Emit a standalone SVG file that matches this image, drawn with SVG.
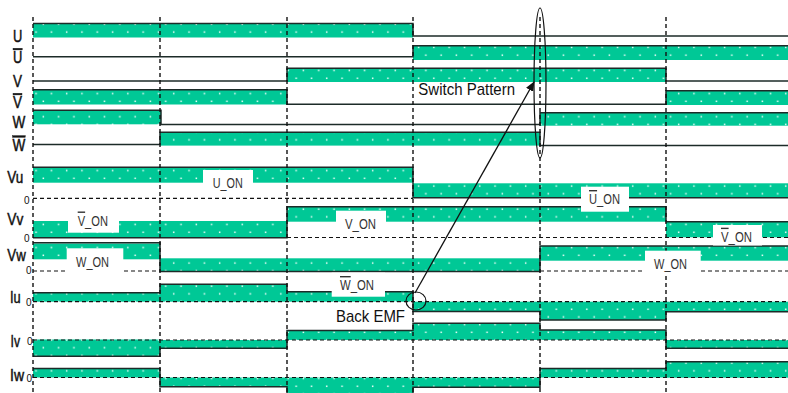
<svg xmlns="http://www.w3.org/2000/svg" width="788" height="393" viewBox="0 0 788 393">
<style>
.g{fill:url(#dots)}
.w{fill:none;stroke:#1c2b28;stroke-width:1.5}
.z{fill:none;stroke:#111;stroke-width:1.2;stroke-dasharray:4 3}
.grid{fill:none;stroke:#111;stroke-width:1.4;stroke-dasharray:4 3}
.box{fill:#fff}
.lbl{font-family:"Liberation Sans Narrow","Liberation Sans",Arial,sans-serif;font-size:16px;fill:#111;stroke:#111;stroke-width:0.45}
.zero{font-family:"Liberation Sans Narrow","Liberation Sans",Arial,sans-serif;font-size:10px;fill:#111}
.on{font-family:"Liberation Sans Narrow","Liberation Sans",Arial,sans-serif;font-size:14px;fill:#333}
.big{font-family:"Liberation Sans Narrow","Liberation Sans",Arial,sans-serif;font-size:17px;fill:#111}
.ov{text-decoration:overline}
.ell{fill:none;stroke:#111;stroke-width:1.2}
</style>
<defs>
<pattern id="dots" patternUnits="userSpaceOnUse" width="15.3" height="15.4">
<rect width="15.3" height="15.4" fill="#00c896"/>
<rect x="12" y="8.2" width="1.5" height="1.5" fill="#effffa"/>
<rect x="4.7" y="0.5" width="1.5" height="1.5" fill="#effffa"/>
</pattern>
<marker id="ah" markerWidth="10" markerHeight="8" refX="9" refY="4" orient="auto" markerUnits="userSpaceOnUse">
<path d="M0,0 L10,4 L0,8 Z" fill="#111"/>
</marker>
</defs>
<rect width="788" height="393" fill="#fff"/>

<g id="row-U">
<rect class="g" x="33" y="23.5" width="380" height="14"/>
<path class="w" d="M33,23.5 H413 V36 H788"/>
<text class="lbl" x="13" y="41.7" textLength="9.3" lengthAdjust="spacingAndGlyphs">U</text>
</g>
<g id="row-Ubar">
<rect class="g" x="413" y="45.7" width="375" height="14.3"/>
<path class="w" d="M33,56.7 H413 V45.7 H788"/>
<text class="lbl" x="13" y="63.3" textLength="9.3" lengthAdjust="spacingAndGlyphs"><tspan class="ov">U</tspan></text>
</g>
<g id="row-V">
<rect class="g" x="287" y="68.3" width="379" height="13.7"/>
<path class="w" d="M33,81 H287 V68.3 H666 V81 H788"/>
<text class="lbl" x="13" y="87.3" textLength="9" lengthAdjust="spacingAndGlyphs">V</text>
</g>
<g id="row-Vbar">
<rect class="g" x="33" y="89.7" width="254" height="14.8"/>
<rect class="g" x="666" y="90.7" width="122" height="14.3"/>
<path class="w" d="M33,89.7 H287 V104.3 H666 V90.7 H788"/>
<text class="lbl" x="13" y="108.3" textLength="9" lengthAdjust="spacingAndGlyphs"><tspan class="ov">V</tspan></text>
</g>
<g id="row-W">
<rect class="g" x="33" y="110.3" width="128" height="14"/>
<rect class="g" x="540" y="112.7" width="248" height="13"/>
<path class="w" d="M33,110.3 H161 V124.4 H540 V112.7 H788"/>
<text class="lbl" x="12.5" y="128.3" textLength="12.8" lengthAdjust="spacingAndGlyphs">W</text>
</g>
<g id="row-Wbar">
<rect class="g" x="160" y="132.3" width="380" height="13.3"/>
<path class="w" d="M33,144.4 H160 V132.3 H540 V145.6 H788"/>
<text class="lbl" x="12.5" y="150.7" textLength="12.8" lengthAdjust="spacingAndGlyphs"><tspan class="ov">W</tspan></text>
</g>

<g id="row-Vu">
<rect class="g" x="33" y="167.3" width="380" height="15.4"/>
<rect class="g" x="413" y="183.3" width="375" height="14.4"/>
<path class="z" d="M33,198.3 H413"/>
<path class="w" d="M33,167.3 H413 V197.7 H788"/>
<text class="lbl" x="7.3" y="182.5" textLength="16" lengthAdjust="spacingAndGlyphs">Vu</text>
<text class="zero" x="24" y="203.5">0</text>
</g>
<g id="row-Vv">
<rect class="g" x="33" y="221" width="254" height="16.5"/>
<rect class="g" x="287" y="206.7" width="379" height="15"/>
<rect class="g" x="666" y="221.7" width="122" height="15.6"/>
<path class="z" d="M287,237.5 H788"/>
<path class="w" d="M33,237.7 H287 V206.7 H666 V221.7 H788"/>
<text class="lbl" x="7.3" y="224.8" textLength="16" lengthAdjust="spacingAndGlyphs">Vv</text>
<text class="zero" x="24" y="241.5">0</text>
</g>
<g id="row-Vw">
<rect class="g" x="33" y="243.5" width="127" height="15.8"/>
<rect class="g" x="160" y="258.3" width="380" height="13"/>
<rect class="g" x="540" y="246" width="248" height="14.7"/>
<path class="z" d="M33,271 H160 M540,271 H788"/>
<path class="w" d="M33,242.7 H160 V271.5 H540 V246 H788"/>
<text class="lbl" x="7.3" y="260.5" textLength="18.4" lengthAdjust="spacingAndGlyphs">Vw</text>
<text class="zero" x="26" y="273.5">0</text>
</g>
<g id="row-Iu">
<rect class="g" x="33" y="292.7" width="127" height="9"/>
<rect class="g" x="160" y="284.3" width="127" height="17.4"/>
<rect class="g" x="287" y="291.7" width="126" height="10"/>
<rect class="g" x="413" y="301.7" width="127" height="9.8"/>
<rect class="g" x="540" y="301.7" width="126" height="18.3"/>
<rect class="g" x="666" y="301.7" width="122" height="10"/>
<path class="w" d="M33,292.7 H160 V284.3 H287 V291.7 H413 V311.5 H540 V320 H666 V311.7 H788"/>
<path class="z" d="M33,301.7 H788"/>
<text class="lbl" x="10" y="302.7" textLength="10.7" lengthAdjust="spacingAndGlyphs">Iu</text>
<text class="zero" x="26" y="306">0</text>
</g>
<g id="row-Iv">
<rect class="g" x="33" y="339.5" width="127" height="16.8"/>
<rect class="g" x="160" y="340" width="127" height="8.3"/>
<rect class="g" x="287" y="330.5" width="126" height="9.5"/>
<rect class="g" x="413" y="323.3" width="127" height="16.7"/>
<rect class="g" x="540" y="330" width="126" height="10"/>
<rect class="g" x="666" y="340" width="122" height="8.3"/>
<path class="w" d="M33,356.3 H160 V348.3 H287 V330.5 H413 V323.3 H540 V330 H666 V348.3 H788"/>
<path class="z" d="M33,340 H788"/>
<text class="lbl" x="10.5" y="346.7" textLength="9.5" lengthAdjust="spacingAndGlyphs">Iv</text>
<text class="zero" x="27" y="344.5">0</text>
</g>
<g id="row-Iw">
<rect class="g" x="33" y="368.5" width="127" height="9"/>
<rect class="g" x="160" y="377.5" width="127" height="9.3"/>
<rect class="g" x="287" y="377.5" width="126" height="20"/>
<rect class="g" x="413" y="377.5" width="127" height="9.8"/>
<rect class="g" x="540" y="368.5" width="126" height="9"/>
<rect class="g" x="666" y="361.7" width="122" height="16"/>
<path class="w" d="M33,368.5 H160 V386.8 H287 V400 M413,400 V387.3 H540 V368.5 H666 V361.7 H788"/>
<path class="z" d="M33,377.5 H788"/>
<text class="lbl" x="10" y="380.5" textLength="14" lengthAdjust="spacingAndGlyphs">Iw</text>
<text class="zero" x="26.5" y="382">0</text>
</g>

<g id="grid">
<path class="grid" d="M33,17 V393 M160,17 V393 M287,17 V393 M413,17 V393 M540,17 V393 M666,17 V393"/>
</g>

<g id="labels">
<rect class="box" x="203" y="170" width="50" height="13"/>
<text class="on" x="212.7" y="188.3" textLength="30" lengthAdjust="spacingAndGlyphs">U_ON</text>
<rect class="box" x="581" y="186.7" width="48" height="25"/>
<text class="on" x="589" y="204" textLength="31" lengthAdjust="spacingAndGlyphs"><tspan class="ov">U</tspan>_ON</text>
<rect class="box" x="68" y="210" width="51" height="22.7"/>
<text class="on" x="77.7" y="225.5" textLength="30.3" lengthAdjust="spacingAndGlyphs"><tspan class="ov">V</tspan>_ON</text>
<rect class="box" x="336" y="210.7" width="50" height="22.5"/>
<text class="on" x="345" y="229" textLength="31" lengthAdjust="spacingAndGlyphs">V_ON</text>
<rect class="box" x="713" y="225" width="49" height="20.5"/>
<text class="on" x="721" y="241.7" textLength="31" lengthAdjust="spacingAndGlyphs"><tspan class="ov">V</tspan>_ON</text>
<rect class="box" x="66.7" y="248.3" width="56.6" height="25"/>
<text class="on" x="76" y="267" textLength="33" lengthAdjust="spacingAndGlyphs">W_ON</text>
<rect class="box" x="645" y="250.7" width="55.7" height="23"/>
<text class="on" x="654" y="269.3" textLength="33" lengthAdjust="spacingAndGlyphs">W_ON</text>
<rect class="box" x="331.7" y="272.7" width="53.3" height="24"/>
<text class="on" x="340" y="290" textLength="34" lengthAdjust="spacingAndGlyphs"><tspan class="ov">W</tspan>_ON</text>
<text class="big" x="418.3" y="95" textLength="96.7" lengthAdjust="spacingAndGlyphs">Switch Pattern</text>
<text class="big" x="336" y="321.7" textLength="69" lengthAdjust="spacingAndGlyphs">Back EMF</text>
</g>

<g id="switch-pattern-marker">
<ellipse class="ell" cx="540" cy="83" rx="6" ry="75"/>
</g>
<g id="back-emf-marker">
<ellipse class="ell" cx="416" cy="301" rx="10" ry="9"/>
</g>
<g id="connectors">
<path d="M415,293 L534,82" fill="none" stroke="#111" stroke-width="1.3" marker-end="url(#ah)"/>
</g>
</svg>
